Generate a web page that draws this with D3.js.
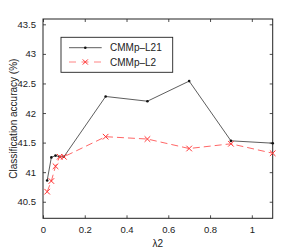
<!DOCTYPE html>
<html>
<head>
<meta charset="utf-8">
<script src="https://cdn.jsdelivr.net/npm/d3@7"></script>
<style>
  body { margin: 0; background: #fff; }
  text { font-family: "Liberation Sans", Arial, sans-serif; fill: #222; }
</style>
</head>
<body>
<svg id="chart" width="300" height="251"></svg>
<script>
// lambda2 values and accuracies
var lambdas = [0.02, 0.04, 0.06, 0.08, 0.1, 0.3, 0.5, 0.7, 0.9, 1.1];
var accL21 = [40.86, 41.25, 41.28, 41.26, 41.26, 42.28, 42.20, 42.54, 41.53, 41.49];
var accL2 = [40.67, 40.85, 41.10, 41.26, 41.26, 41.60, 41.56, 41.40, 41.48, 41.32];
var xTicks = [0, 0.2, 0.4, 0.6, 0.8, 1];
var yTicks = [40.5, 41, 41.5, 42, 42.5, 43, 43.5];
var seriesNames = ["CMMp\u2013L21", "CMMp\u2013L2"];

// plot box (window.top is reserved, so use box* names)
var boxLeft = 43, boxTop = 19, boxRight = 272.7, boxBottom = 218.3;

var svg = d3.select("#chart");

var x = d3.scaleLinear().domain([0, 1.1]).range([boxLeft, boxRight]);
var y = d3.scaleLinear().domain([40.22, 43.59]).range([boxBottom, boxTop]);

var tickLen = 3;

// axes box with inward ticks on all sides
svg.append("g")
    .attr("transform", "translate(0," + boxBottom + ")")
    .call(d3.axisBottom(x).tickValues(xTicks).tickSizeInner(-tickLen).tickSizeOuter(0).tickPadding(8)
        .tickFormat(d3.format("")));
svg.append("g")
    .attr("transform", "translate(0," + boxTop + ")")
    .call(d3.axisTop(x).tickValues(xTicks).tickSizeInner(-tickLen).tickSizeOuter(0).tickFormat(""));
svg.append("g")
    .attr("transform", "translate(" + boxLeft + ",0)")
    .call(d3.axisLeft(y).tickValues(yTicks).tickSizeInner(-tickLen).tickSizeOuter(0).tickPadding(7)
        .tickFormat(d3.format("")));
svg.append("g")
    .attr("transform", "translate(" + boxRight + ",0)")
    .call(d3.axisRight(y).tickValues(yTicks).tickSizeInner(-tickLen).tickSizeOuter(0).tickFormat(""));

svg.selectAll(".domain").remove();
svg.selectAll(".tick line").attr("stroke", "#222").attr("stroke-width", 0.8);
svg.selectAll(".tick text").style("font-size", "9.5px").attr("fill", "#222");

svg.append("rect")
    .attr("x", boxLeft).attr("y", boxTop)
    .attr("width", boxRight - boxLeft).attr("height", boxBottom - boxTop)
    .attr("fill", "none").attr("stroke", "#222").attr("stroke-width", 1);

// lines
var accLine = d3.line().x(function (d, i) { return x(lambdas[i]); }).y(function (d) { return y(d); });

svg.append("path")
    .datum(accL21)
    .attr("d", accLine)
    .attr("fill", "none").attr("stroke", "#333").attr("stroke-width", 0.8);

svg.selectAll(".dotL21")
    .data(accL21)
    .enter().append("circle")
    .attr("cx", function (d, i) { return x(lambdas[i]); })
    .attr("cy", function (d) { return y(d); })
    .attr("r", 1.3)
    .attr("fill", "#111");

svg.append("path")
    .datum(accL2)
    .attr("d", accLine)
    .attr("fill", "none").attr("stroke", "#ff5555").attr("stroke-width", 0.9)
    .attr("stroke-dasharray", "7,4");

function cross(g, cx, cy, s) {
    g.append("path")
        .attr("d", "M" + (cx - s) + "," + (cy - s) + "L" + (cx + s) + "," + (cy + s) +
            "M" + (cx - s) + "," + (cy + s) + "L" + (cx + s) + "," + (cy - s))
        .attr("stroke", "#ff3333").attr("stroke-width", 1).attr("fill", "none");
}

var crosses = svg.append("g");
accL2.forEach(function (d, i) { cross(crosses, x(lambdas[i]), y(d), 2.8); });

// legend
var lg = svg.append("g");
lg.append("rect")
    .attr("x", 61).attr("y", 37.3).attr("width", 111.7).attr("height", 35)
    .attr("fill", "#fff").attr("stroke", "#222").attr("stroke-width", 0.9);

lg.append("line").attr("x1", 69).attr("x2", 101.7).attr("y1", 47.7).attr("y2", 47.7)
    .attr("stroke", "#333").attr("stroke-width", 0.8);
lg.append("circle").attr("cx", 85.3).attr("cy", 47.7).attr("r", 1.3).attr("fill", "#111");
lg.append("line").attr("x1", 69).attr("x2", 101.7).attr("y1", 62).attr("y2", 62)
    .attr("stroke", "#ff7777").attr("stroke-width", 0.9).attr("stroke-dasharray", "7,5.5");
cross(lg, 85.3, 62, 2.6);

lg.selectAll(".legtext")
    .data(seriesNames)
    .enter().append("text")
    .attr("x", 110)
    .attr("y", function (d, i) { return 47.7 + i * 14.3; })
    .attr("dy", "0.35em")
    .style("font-size", "10px")
    .text(function (d) { return d; });

// axis labels
svg.append("text")
    .attr("transform", "translate(13," + ((boxTop + boxBottom) / 2) + ") rotate(-90)")
    .attr("text-anchor", "middle")
    .attr("dy", "0.35em")
    .style("font-size", "10px")
    .text("Classification accuracy (%)");

svg.append("text")
    .attr("x", (boxLeft + boxRight) / 2)
    .attr("y", 247)
    .attr("text-anchor", "middle")
    .style("font-size", "10px")
    .text("\u03bb2");
</script>
</body>
</html>
